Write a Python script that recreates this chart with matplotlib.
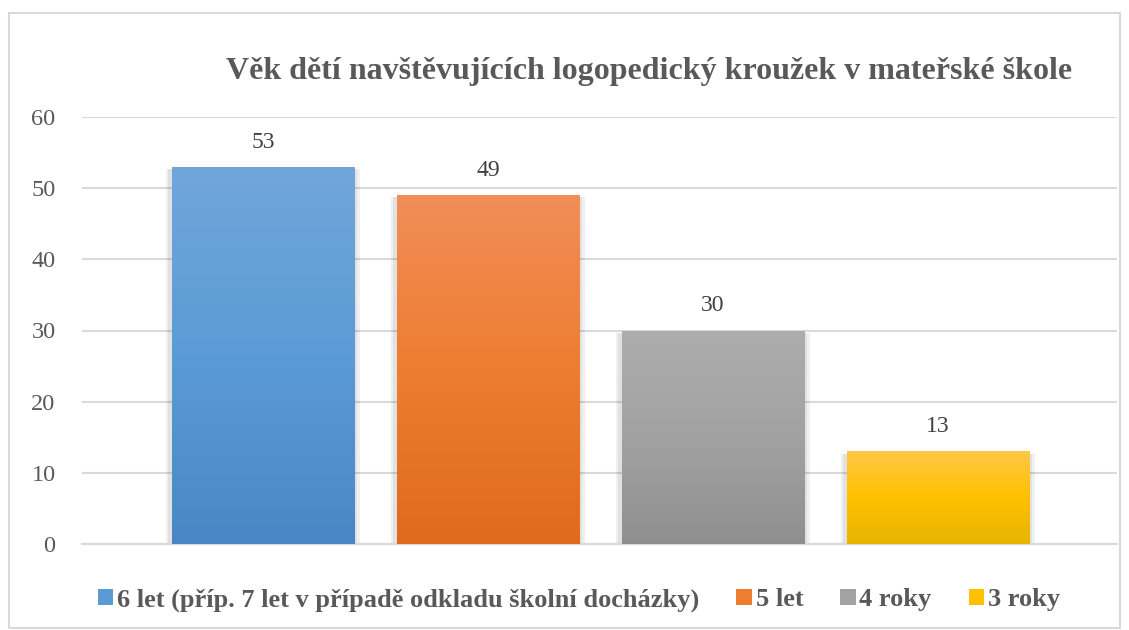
import numpy as np
import matplotlib
matplotlib.use("Agg")
import matplotlib.pyplot as plt
from matplotlib.colors import LinearSegmentedColormap
from matplotlib.patches import Rectangle

# data
labels = ["6 let (příp. 7 let v případě odkladu školní docházky)", "5 let", "4 roky", "3 roky"]
values = [53, 49, 30, 13]
title = "Věk dětí navštěvujících logopedický kroužek v mateřské škole"

# gradient colours (top, middle, bottom) for each series
grads = [
    ["#71A6DB", "#5B9BD5", "#4A86C5"],
    ["#F28E58", "#ED7D31", "#E06A1C"],
    ["#ADADAD", "#A2A2A2", "#8F8F8F"],
    ["#FFC846", "#FFC000", "#E6B400"],
]

plt.rcParams["font.family"] = ["Liberation Serif", "DejaVu Serif"]

fig = plt.figure(figsize=(11.29, 6.3), dpi=100)
ax = fig.add_axes([82 / 1129, 1 - 544 / 630, (1117 - 82) / 1129, (544 - 117) / 630])

# chart border
fig.patches.append(Rectangle((9 / 1129, 2 / 630), 1111 / 1129, 615 / 630, transform=fig.transFigure,
                             fill=False, edgecolor="#D9D9D9", linewidth=1.5))

x = np.arange(len(values))
width = 0.81
bars = ax.bar(x, values, width=width, color=[g[1] for g in grads], zorder=3)

for i, (b, g) in enumerate(zip(bars, grads)):
    # soft shadow at the sides
    for k, a in zip([0.025, 0.015], [0.06, 0.06]):
        ax.add_patch(Rectangle((b.get_x() - k, 0), b.get_width() + 2 * k, b.get_height() - 0.3,
                               facecolor="#000000", alpha=a, edgecolor="none", zorder=2))
    cmap = LinearSegmentedColormap.from_list("g%d" % i, g[::-1])
    grad = np.linspace(0, 1, 256).reshape(-1, 1)
    im = ax.imshow(grad, extent=[b.get_x(), b.get_x() + b.get_width(), 0, b.get_height()],
                   origin="lower", aspect="auto", cmap=cmap, zorder=4)
    im.set_clip_path(b)
    ax.text(b.get_x() + b.get_width() / 2, b.get_height() + 2.0, str(values[i]),
            ha="center", va="bottom", fontsize=17, color="#404040", zorder=5)

ax.set_xlim(-0.804, 3.796)
ax.set_ylim(0, 60)
ax.set_yticks(range(0, 61, 10))
ax.set_xticks([])
ax.tick_params(axis="y", length=0, labelsize=17.5, labelcolor="#595959", pad=19)
ax.grid(axis="y", color="#D9D9D9", linewidth=1.5, zorder=0)
for s in ["top", "right", "left"]:
    ax.spines[s].set_visible(False)
ax.spines["bottom"].set_color("#D9D9D9")
ax.spines["bottom"].set_linewidth(1.5)

fig.text(649 / 1129, 1 - 72 / 630, title, ha="center", va="center", fontsize=23,
         fontweight="bold", color="#595959")

handles = [Rectangle((0, 0), 1, 1, facecolor=g[1]) for g in grads]
leg = fig.legend(handles, labels, loc="center", bbox_to_anchor=(579 / 1129, 1 - 600 / 630), ncol=4,
                 frameon=False, prop={"size": 19, "weight": "bold"}, handlelength=0.58, handleheight=0.58,
                 handletextpad=0.15, columnspacing=1.4)
for t in leg.get_texts():
    t.set_color("#595959")

fig.savefig("out.png", dpi=100)
